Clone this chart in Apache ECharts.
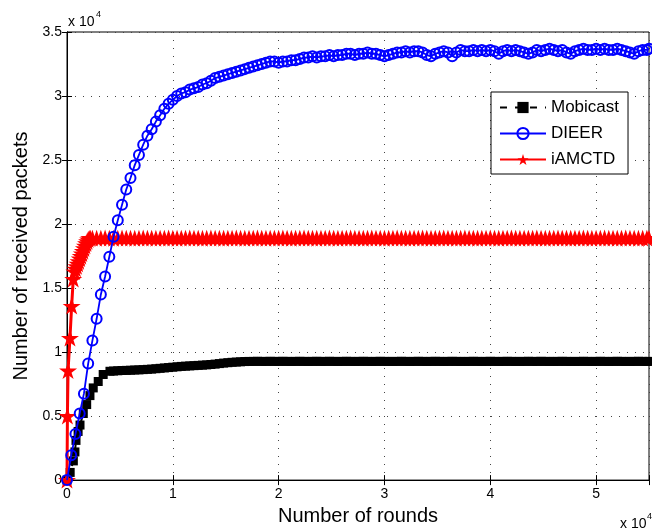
<!DOCTYPE html>
<html>
<head>
<meta charset="utf-8">
<script src="https://cdn.jsdelivr.net/npm/echarts@6/dist/echarts.min.js"></script>
<style>
html,body{margin:0;padding:0;background:#fff;}
#chart{width:652px;height:531px;}
</style>
</head>
<body>
<div id="chart"></div>
<script>
// Shared sampling of rounds
const rounds = [
0,400,800,1200,1600,2000,2400,2800,3200,3600,
4000,4400,4800,5200,5600,6000,6400,6800,7200,7600,
8000,8400,8800,9200,9600,10000,10400,10800,11200,11600,
12000,12400,12800,13200,13600,14000,14400,14800,15200,15600,
16000,16400,16800,17200,17600,18000,18400,18800,19200,19600,
20000,20400,20800,21200,21600,22000,22400,22800,23200,23600,
24000,24400,24800,25200,25600,26000,26400,26800,27200,27600,
28000,28400,28800,29200,29600,30000,30400,30800,31200,31600,
32000,32400,32800,33200,33600,34000,34400,34800,35200,35600,
36000,36400,36800,37200,37600,38000,38400,38800,39200,39600,
40000,40400,40800,41200,41600,42000,42400,42800,43200,43600,
44000,44400,44800,45200,45600,46000,46400,46800,47200,47600,
48000,48400,48800,49200,49600,50000,50400,50800,51200,51600,
52000,52400,52800,53200,53600,54000,54400,54800,55000
];

// DIEER (all rounds)
const dieerPackets = [
0,1950,3600,5200,6750,9100,10900,12600,14500,15900,
17450,19000,20300,21500,22700,23600,24600,25400,26200,26900,
27400,28000,28500,29000,29400,29700,30000,30200,30300,30500,
30600,30700,30900,31000,31200,31400,31500,31600,31700,31800,
31900,32000,32100,32200,32300,32400,32500,32600,32700,32700,
32600,32700,32700,32800,32800,32900,33000,33000,33100,33000,
33100,33100,33200,33100,33200,33200,33300,33300,33200,33300,
33300,33400,33300,33300,33200,33100,33200,33300,33400,33400,
33500,33400,33500,33500,33400,33200,33100,33300,33400,33500,
33400,33100,33400,33600,33500,33500,33600,33500,33600,33500,
33600,33500,33300,33500,33600,33500,33600,33500,33400,33300,
33400,33600,33500,33600,33700,33600,33500,33600,33400,33300,
33500,33600,33700,33600,33600,33700,33600,33700,33600,33600,
33700,33600,33500,33400,33300,33500,33600,33600,33700
];

// Mobicast: early samples, then shared rounds from 4400 on
const mobicastEarlyRounds = [0,300,600,750,850,1050,1230,1540,1860,2170,2480,2950,3420,4060];
const mobicastEarlyPackets = [0,600,1500,2200,3100,3800,4300,5200,5900,6600,7200,7700,8250,8500];
const mobicastPackets = [
8520,8540,8560,8570,8580,8600,8610,8630,8650,
8670,8700,8730,8760,8790,8820,8850,8880,8900,8920,
8940,8960,8980,9000,9030,9060,9100,9140,9170,9200,
9220,9240,9260,9270,9270,9280,9270,9270,9280,9270,
9270,9280,9270,9270,9270,9280,9270,9270,9270,9280,
9270,9270,9280,9270,9270,9270,9280,9270,9270,9270,
9280,9270,9270,9270,9280,9270,9270,9270,9270,9280,
9270,9270,9270,9280,9270,9270,9270,9280,9270,9270,
9270,9280,9270,9270,9270,9270,9280,9270,9270,9270,
9280,9270,9270,9270,9280,9270,9270,9270,9270,9280,
9270,9270,9280,9270,9270,9270,9270,9280,9270,9270,
9270,9270,9280,9270,9270,9270,9280,9270,9270,9270,
9280,9270,9270,9270,9270,9280,9270,9270,9270
];

// iAMCTD: early samples, then shared rounds from 2400 on
const iamctdEarlyRounds = [0,40,100,280,440,590,700,800,900,1000,1100,1200,1300,1400,1500,1600,1700,1800,1900,2000,2100,2200];
const iamctdEarlyPackets = [0,5000,8550,11100,13600,15700,16300,16500,16700,16900,17100,17300,17500,17700,17900,18100,18300,18500,18650,18800,18880,18900];
const iamctdPackets = [
18900,18890,18900,18910,
18900,18890,18900,18910,18900,18900,18890,18900,18910,18900,
18900,18890,18900,18900,18910,18900,18890,18900,18900,18910,
18900,18900,18890,18900,18910,18900,18900,18890,18900,18900,
18910,18900,18890,18900,18900,18910,18900,18890,18900,18900,
18900,18910,18900,18890,18900,18900,18910,18900,18900,18890,
18900,18900,18910,18900,18890,18900,18900,18910,18900,18900,
18890,18900,18910,18900,18900,18890,18900,18900,18910,18900,
18900,18890,18900,18900,18910,18900,18890,18900,18900,18910,
18900,18900,18890,18900,18910,18900,18900,18890,18900,18900,
18910,18900,18890,18900,18900,18910,18900,18890,18900,18900,
18900,18910,18900,18890,18900,18900,18910,18900,18900,18890,
18900,18900,18910,18900,18890,18900,18900,18910,18900,18900,
18890,18900,18910,18900,18900,18890,18900,18900,18900
];

const seriesNames = ['Mobicast','DIEER','iAMCTD'];
const xTickLabels = ['0','1','2','3','4','5'];
const yTickLabels = ['0','0.5','1','1.5','2','2.5','3','3.5'];

const dieerData = rounds.map((r,i)=>[r, dieerPackets[i]]);
const mobicastData = mobicastEarlyRounds.map((r,i)=>[r, mobicastEarlyPackets[i]])
  .concat(rounds.slice(11).map((r,i)=>[r, mobicastPackets[i]]));
const iamctdData = iamctdEarlyRounds.map((r,i)=>[r, iamctdEarlyPackets[i]])
  .concat(rounds.slice(6).map((r,i)=>[r, iamctdPackets[i]]));

const FONT = '"Liberation Sans", Arial, Helvetica, sans-serif';
const STAR = 'path://M50,0 L61.8,35.1 L98.9,35.1 L68.9,56.9 L80.3,92.1 L50,70.3 L19.7,92.1 L31.1,56.9 L1.1,35.1 L38.2,35.1 Z';

const gridLine = {show:true, lineStyle:{color:'#444', width:1, type:[1,7]}};
const blackLine = {show:true, lineStyle:{color:'#000', width:1}};
const inTick = {show:true, inside:true, length:5, lineStyle:{color:'#000', width:1}};

const chart = echarts.init(document.getElementById('chart'), null, {renderer:'canvas'});
chart.setOption({
  animation:false,
  backgroundColor:'#fff',
  grid:{left:67, right:1, top:32, bottom:44, show:true, borderColor:'#000', borderWidth:1, backgroundColor:'transparent'},
  xAxis:[{
    type:'value', min:0, max:55000, interval:10000, position:'bottom',
    axisLine:blackLine, axisTick:inTick, splitLine:gridLine,
    axisLabel:{color:'#000', fontSize:14, fontFamily:FONT, margin:7,
      formatter:(v)=>{const i=Math.round(v/10000); return (v%10000===0 && xTickLabels[i]!==undefined)?xTickLabels[i]:'';}},
    name:'Number of rounds', nameLocation:'middle', nameGap:22,
    nameTextStyle:{color:'#000', fontSize:20, fontFamily:FONT}
  },{
    type:'value', min:0, max:55000, interval:10000, position:'top',
    axisLine:blackLine, axisTick:inTick, splitLine:{show:false}, axisLabel:{show:false}
  }],
  yAxis:[{
    type:'value', min:0, max:35000, interval:5000, position:'left',
    axisLine:blackLine, axisTick:inTick, splitLine:gridLine,
    axisLabel:{color:'#000', fontSize:14, fontFamily:FONT, margin:5,
      formatter:(v)=>{const i=Math.round(v/5000); return yTickLabels[i]!==undefined?yTickLabels[i]:'';}},
    name:'Number of received packets', nameLocation:'middle', nameGap:32,
    nameTextStyle:{color:'#000', fontSize:20, fontFamily:FONT}
  },{
    type:'value', min:0, max:35000, interval:5000, position:'right',
    axisLine:blackLine, axisTick:inTick, splitLine:{show:false}, axisLabel:{show:false}
  }],
  legend:{
    left:491, top:92, orient:'vertical',
    backgroundColor:'#fff', borderColor:'#000', borderWidth:1,
    padding:[7,9,6,8], itemWidth:46, itemHeight:14, itemGap:9,
    textStyle:{color:'#000', fontSize:17, fontFamily:FONT, lineHeight:14},
    data:seriesNames
  },
  graphic:[
    {type:'text', x:68, y:22, style:{text:'x 10', fontSize:14, fontFamily:FONT, fill:'#000', verticalAlign:'middle'}},
    {type:'text', x:96, y:15, style:{text:'4', fontSize:9, fontFamily:FONT, fill:'#000', verticalAlign:'middle'}},
    {type:'text', x:620, y:524, style:{text:'x 10', fontSize:14, fontFamily:FONT, fill:'#000', verticalAlign:'middle'}},
    {type:'text', x:647, y:517, style:{text:'4', fontSize:9, fontFamily:FONT, fill:'#000', verticalAlign:'middle'}}
  ],
  series:[{
    name:seriesNames[0], type:'line', data:mobicastData, z:2,
    symbol:'rect', symbolSize:9,
    itemStyle:{color:'#000'},
    lineStyle:{color:'#000', width:2, type:[7,8]}
  },{
    name:seriesNames[1], type:'line', data:dieerData, z:4,
    symbol:'circle', symbolSize:10,
    itemStyle:{color:'rgba(0,0,0,0)', borderColor:'#0000ff', borderWidth:2},
    lineStyle:{color:'#0000ff', width:1.8}
  },{
    name:seriesNames[2], type:'line', data:iamctdData, z:3,
    symbol:STAR, symbolSize:18, symbolKeepAspect:true,
    itemStyle:{color:'#ff0000'},
    lineStyle:{color:'#ff0000', width:3}
  }]
});
</script>
</body>
</html>
